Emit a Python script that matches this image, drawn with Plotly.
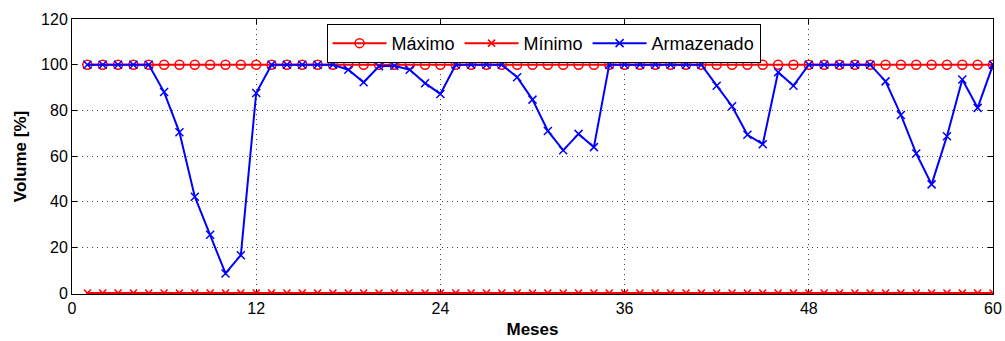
import plotly.graph_objects as go

meses = list(range(1, 61))
maximo = [100] * 60
minimo = [0] * 60
armazenado = [100, 100, 100, 100, 100, 88, 70.4, 42.2, 25.5, 8.6,
              16.6, 87.6, 100, 100, 100, 100, 100, 97.8, 92.3, 99.3,
              99.5, 97.8, 91.9, 87.2, 100, 100, 100, 100, 94.5, 84.7,
              71.0, 62.5, 69.7, 63.9, 100, 100, 100, 100, 100, 100,
              100, 90.8, 81.8, 69.3, 65.2, 96.7, 90.8, 100, 100, 100,
              100, 100, 92.7, 78.0, 61.1, 47.6, 68.7, 93.5, 81.1, 100]
xticks = [0, 12, 24, 36, 48, 60]
yticks = [0, 20, 40, 60, 80, 100, 120]

fig = go.Figure()
fig.add_trace(go.Scatter(x=meses, y=maximo, name="Máximo", mode="lines+markers",
                         line=dict(color="#ff0000", width=2),
                         marker=dict(symbol="circle-open", size=9, color="#ff0000", line=dict(width=1.5))))
fig.add_trace(go.Scatter(x=meses, y=minimo, name="Mínimo", mode="lines+markers",
                         line=dict(color="#ff0000", width=2),
                         marker=dict(symbol="x-thin-open", size=7, color="#ff0000", line=dict(width=1.5, color="#ff0000"))))
fig.add_trace(go.Scatter(x=meses, y=armazenado, name="Armazenado", mode="lines+markers",
                         line=dict(color="#0000ff", width=2),
                         marker=dict(symbol="x-thin-open", size=8, color="#0000ff", line=dict(width=1.5, color="#0000ff"))))

tick_font = dict(family="Liberation Sans", size=16, color="black")
title_font = dict(family="Liberation Sans", size=17, color="black")
axis_common = dict(showline=True, linecolor="black", linewidth=1, mirror="ticks",
                   ticks="inside", ticklen=5, tickcolor="black",
                   showgrid=True, gridcolor="#444444", griddash="1px,4px", gridwidth=1,
                   zeroline=False, tickfont=tick_font, automargin=False, layer="below traces")

fig.update_xaxes(range=[0, 60], tickvals=xticks, ticktext=[str(v) for v in xticks],
                 title=dict(text="<b>Meses</b>", font=title_font, standoff=6),
                 **axis_common)
fig.update_yaxes(range=[-0.4, 120], tickvals=yticks, ticktext=[str(v) for v in yticks],
                 title=dict(text="<b>Volume [%]</b>", font=title_font, standoff=10),
                 **axis_common)

fig.update_layout(width=1005, height=341,
                  margin=dict(l=72, r=12, t=19, b=47),
                  plot_bgcolor="white", paper_bgcolor="white",
                  showlegend=True,
                  legend=dict(orientation="h", x=0.512, xanchor="center", y=0.982, yanchor="top",
                              bordercolor="black", borderwidth=1, bgcolor="white",
                              font=dict(family="Liberation Sans", size=18, color="black"),
                              itemwidth=54, tracegroupgap=0))

fig.write_html("out.html", config={"displayModeBar": False},
               post_script="document.body.style.margin='0';document.body.style.overflow='hidden';")
